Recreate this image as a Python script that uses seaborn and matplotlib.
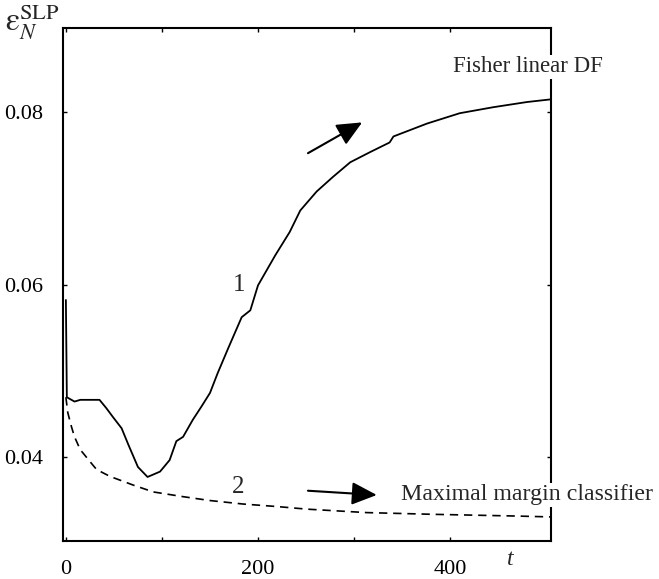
import matplotlib
matplotlib.use("Agg")
import matplotlib.pyplot as plt
import numpy as np
import pandas as pd
import seaborn as sns

# ---- data ----
t_fisher = [0, 1, 9, 15, 35, 42, 49, 58, 65, 75, 85, 98, 108, 115, 122, 132, 141,
            150, 158, 169, 183, 192, 200, 218, 233, 244, 261, 278, 296, 317, 337,
            341, 376, 410, 445, 480, 504]
err_fisher = [0.0582, 0.0469, 0.0464, 0.0466, 0.0466, 0.04565, 0.0446, 0.0433,
              0.0414, 0.0388, 0.03764, 0.03826, 0.0396, 0.0418, 0.0423, 0.04426,
              0.0458, 0.0474, 0.0497, 0.0526, 0.0562, 0.0570, 0.0599, 0.0634,
              0.0661, 0.0686, 0.0708, 0.0725, 0.0742, 0.0754, 0.0765, 0.0772,
              0.0787, 0.0799, 0.0806, 0.0812, 0.0815]

t_margin = [0, 2, 6, 9, 15, 18, 26, 32, 46, 70, 91, 122, 150, 184, 220, 251, 313,
            382, 469, 504]
err_margin = [0.0469, 0.0451, 0.0434, 0.0423, 0.0408, 0.0404, 0.0393, 0.0385,
              0.0377, 0.0367, 0.0359, 0.03535, 0.0349, 0.0345, 0.0342, 0.0339,
              0.0335, 0.0333, 0.0331, 0.0330]

x_ticks = [0, 200, 400]
x_minor = [100, 300]
y_ticks = [0.04, 0.06, 0.08]
y_tick_labels = ["0.04", "0.06", "0.08"]

label_fisher = "Fisher linear DF"
label_margin = "Maximal margin classifier"

df_f = pd.DataFrame({"t": t_fisher, "err": err_fisher})
df_m = pd.DataFrame({"t": t_margin, "err": err_margin})

sns.set_style("ticks")
plt.rcParams["font.family"] = ["Liberation Serif", "DejaVu Serif"]
plt.rcParams["mathtext.fontset"] = "stix"

fig = plt.figure(figsize=(6.59, 5.79), dpi=100)
ax = fig.add_axes([63 / 659, 1 - 541 / 579, 488 / 659, 513 / 579])

sns.lineplot(data=df_f, x="t", y="err", ax=ax, color="black", linewidth=1.3,
             estimator=None, sort=False)
sns.lineplot(data=df_m, x="t", y="err", ax=ax, color="black", linewidth=1.2,
             estimator=None, sort=False, dashes=False)
ax.lines[1].set_linestyle((0, (5, 3.5)))

ax.set_xlim(-3, 505)
ax.set_ylim(0.0302, 0.0898)
ax.set_xticks(x_ticks)
ax.set_xticks(x_minor, minor=True)
ax.set_xticklabels([str(v) for v in x_ticks])
ax.set_yticks(y_ticks)
ax.set_yticklabels(y_tick_labels)
ax.set_xlabel("")
ax.set_ylabel("")

for s in ax.spines.values():
    s.set_visible(True)
    s.set_linewidth(1.5)
    s.set_color("black")
ax.tick_params(axis="both", which="both", direction="in", length=3, width=1,
               top=True, right=True, labelsize=16, pad=14, colors="black")

ax.text(-0.062, 1.012, r"$\mathrm{ε}_{N}^{\mathrm{SLP}}$", transform=ax.transAxes,
        ha="center", va="center", fontsize=23)
ax.text(0.916, -0.037, "t", transform=ax.transAxes, ha="center", va="center",
        fontsize=17, style="italic")

ax.text(0.361, 0.499, "1", transform=ax.transAxes, ha="center", va="center", fontsize=18)
ax.text(0.359, 0.105, "2", transform=ax.transAxes, ha="center", va="center", fontsize=18)

bbox = dict(facecolor="white", edgecolor="none", pad=1)
ax.text(0.799, 0.924, label_fisher, transform=ax.transAxes, ha="left", va="center",
        fontsize=16.5, bbox=bbox, clip_on=False)
ax.text(0.693, 0.0897, label_margin, transform=ax.transAxes, ha="left", va="center",
        fontsize=17.2, bbox=bbox, clip_on=False)

arrow = dict(arrowstyle="-|>,head_length=0.55,head_width=0.25", mutation_scale=28,
             lw=1.5, color="black", shrinkA=0, shrinkB=0)
ax.annotate("", xy=(0.613, 0.816), xytext=(0.502, 0.756), xycoords="axes fraction",
            textcoords="axes fraction", arrowprops=arrow)
ax.annotate("", xy=(0.643, 0.0897), xytext=(0.502, 0.098), xycoords="axes fraction",
            textcoords="axes fraction", arrowprops=arrow)

fig.savefig("out.png", dpi=100)
